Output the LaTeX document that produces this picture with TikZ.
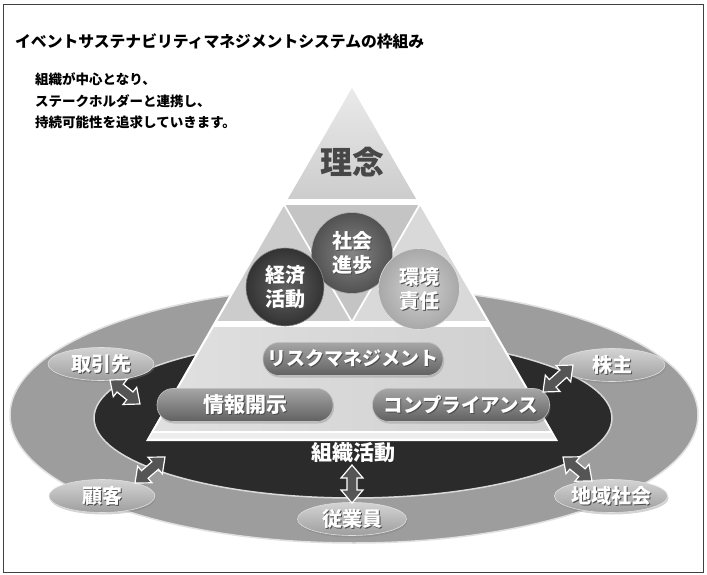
\documentclass[tikz,border=0pt]{standalone}
\usepackage{fontspec}
\setmainfont{Noto Sans CJK JP}
\usetikzlibrary{calc,shapes.geometric,shadows}
\definecolor{outerg}{HTML}{9D9D9D}
\definecolor{innerd}{HTML}{2B2B2B}
\definecolor{arrowg}{HTML}{555555}
\newcommand\sha[1]{\makebox[0pt][l]{\hspace{1pt}\raisebox{-1pt}{\color{black!70}#1}}{\color{white}#1}}
\newcommand\dblarrow[2]{%
  \draw[arrowpath] (#1)
   -- ($ ($(#1)!13pt!(#2)$)!11pt!90:(#2) $)
   -- ($ ($(#1)!13pt!(#2)$)!5pt!90:(#2) $)
   -- ($ ($(#2)!13pt!(#1)$)!5pt!-90:(#1) $)
   -- ($ ($(#2)!13pt!(#1)$)!11pt!-90:(#1) $)
   -- (#2)
   -- ($ ($(#2)!13pt!(#1)$)!11pt!90:(#1) $)
   -- ($ ($(#2)!13pt!(#1)$)!5pt!90:(#1) $)
   -- ($ ($(#1)!13pt!(#2)$)!5pt!-90:(#2) $)
   -- ($ ($(#1)!13pt!(#2)$)!11pt!-90:(#2) $)
   -- cycle;}
\tikzset{
  face/.style={draw=white, line width=1.6pt, line join=round},
  pill/.style={rectangle, rounded corners=16pt, minimum height=33pt, inner sep=0pt,
    top color=black!35, bottom color=black!62, draw=black!25, line width=0.6pt,
    drop shadow={shadow xshift=1pt, shadow yshift=-2pt, opacity=0.35},
    font=\bfseries\fontsize{19}{20}\selectfont},
  stake/.style={ellipse, minimum width=106pt, minimum height=33pt, inner sep=0pt,
    top color=black!17, bottom color=black!38, draw=black!12, line width=0.6pt,
    drop shadow={shadow xshift=1pt, shadow yshift=-2pt, opacity=0.35},
    font=\bfseries\fontsize{20}{21}\selectfont},
  ballnode/.style={circle, inner sep=0pt, align=center,
    font=\bfseries\fontsize{20}{24}\selectfont},
  arrowpath/.style={fill=arrowg, draw=white, line width=1.2pt, line join=miter},
  plain/.style={inner sep=0pt, font=\bfseries\fontsize{13.5}{16}\selectfont}
}
\begin{document}
\begin{tikzpicture}[x=1pt,y=-1pt]
\useasboundingbox (0,0) rectangle (707,575);
\draw[black!75, line width=1pt] (3,5) rectangle (703,572);

% texts
\node[plain, anchor=west, font=\bfseries\fontsize{15.8}{18}\selectfont] (title) at (15,41)
  {イベントサステナビリティマネジメントシステムの枠組み};
\node[plain, anchor=west] (s1) at (35,79) {組織が中心となり、};
\node[plain, anchor=west] (s2) at (35,101) {ステークホルダーと連携し、};
\node[plain, anchor=west] (s3) at (35,122.5) {持続可能性を追求していきます。};

% ellipses
\node[ellipse, minimum width=688pt, minimum height=256pt, fill=outerg,
      draw=black!12, line width=1.5pt] (outer) at (354,415) {};
\node[ellipse, minimum width=518pt, minimum height=160pt, fill=innerd,
      draw=black!15, line width=1.5pt] (inner) at (353,418) {};

% pyramid
\fill[white] (352,82) -- (146,441) -- (558,441) -- cycle;
\path[face, top color=black!8, bottom color=black!20]
  (352,86) -- (417.8,200) -- (286.2,200) -- cycle;
\path[face, fill=black!20] (283.9,204) -- (352,322) -- (215.8,322) -- cycle;
\path[face, fill=black!23] (283.9,204) -- (420.1,204) -- (352,322) -- cycle;
\path[face, fill=black!15] (420.1,204) -- (488.2,322) -- (352,322) -- cycle;
\path[face, left color=black!12, right color=black!19]
  (213.5,326) -- (490.5,326) -- (551.6,432) -- (152.4,432) -- cycle;
\fill[black!7] (152.4,433) -- (551.6,433) -- (555,438.5) -- (149,438.5) -- cycle;

\node[inner sep=0pt, font=\bfseries\fontsize{32}{34}\selectfont,
      text=black!72] (rinen) at (352,162) {理念};

% bands
\node[pill, minimum width=180pt] (risk) at (353,359) {\sha{リスクマネジメント}};
\node[pill, minimum width=176pt, font=\bfseries\fontsize{21}{22}\selectfont] (joho) at (245,405) {\sha{情報開示}};
\node[pill, minimum width=177pt, font=\bfseries\fontsize{19.5}{21}\selectfont] (comp) at (461,405) {\sha{コンプライアンス}};

% balls
\node[ballnode, minimum size=81pt, inner color=black!48, outer color=black!68,
      draw=black!30, line width=0.6pt] (shakai) at (352,253) {\sha{社会}\\\sha{進歩}};
\node[ballnode, minimum size=78pt, inner color=black!62, outer color=black!80,
      draw=black!45, line width=0.6pt] (keizai) at (285,287) {\sha{経済}\\\sha{活動}};
\node[ballnode, minimum size=81pt, inner color=black!18, outer color=black!34,
      draw=black!12, line width=0.6pt] (kankyo) at (419,289) {\sha{環境}\\\sha{責任}};

% stakeholders
\node[stake] (torihiki) at (101,364) {\sha{取引先}};
\node[stake] (kabunushi) at (612,365) {\sha{株主}};
\node[stake] (kokyaku) at (102,496) {\sha{顧客}};
\node[stake] (chiiki) at (611,496) {\sha{地域社会}};
\node[stake, minimum width=109pt] (jugyo) at (352,519) {\sha{従業員}};

\node[inner sep=0pt, font=\bfseries\fontsize{21}{22}\selectfont, text=white] (soshiki) at (353,453) {組織活動};

% arrows
\coordinate (a1s) at (110,380); \coordinate (a1e) at (140,404);
\coordinate (a2s) at (135,483); \coordinate (a2e) at (165,457);
\coordinate (a3s) at (352,465); \coordinate (a3e) at (352,503);
\coordinate (a4s) at (543,392); \coordinate (a4e) at (573,365);
\coordinate (a5s) at (563,457); \coordinate (a5e) at (592,481);
\dblarrow{a1s}{a1e}
\dblarrow{a2s}{a2e}
\dblarrow{a3s}{a3e}
\dblarrow{a4s}{a4e}
\dblarrow{a5s}{a5e}
\end{tikzpicture}
\end{document}
